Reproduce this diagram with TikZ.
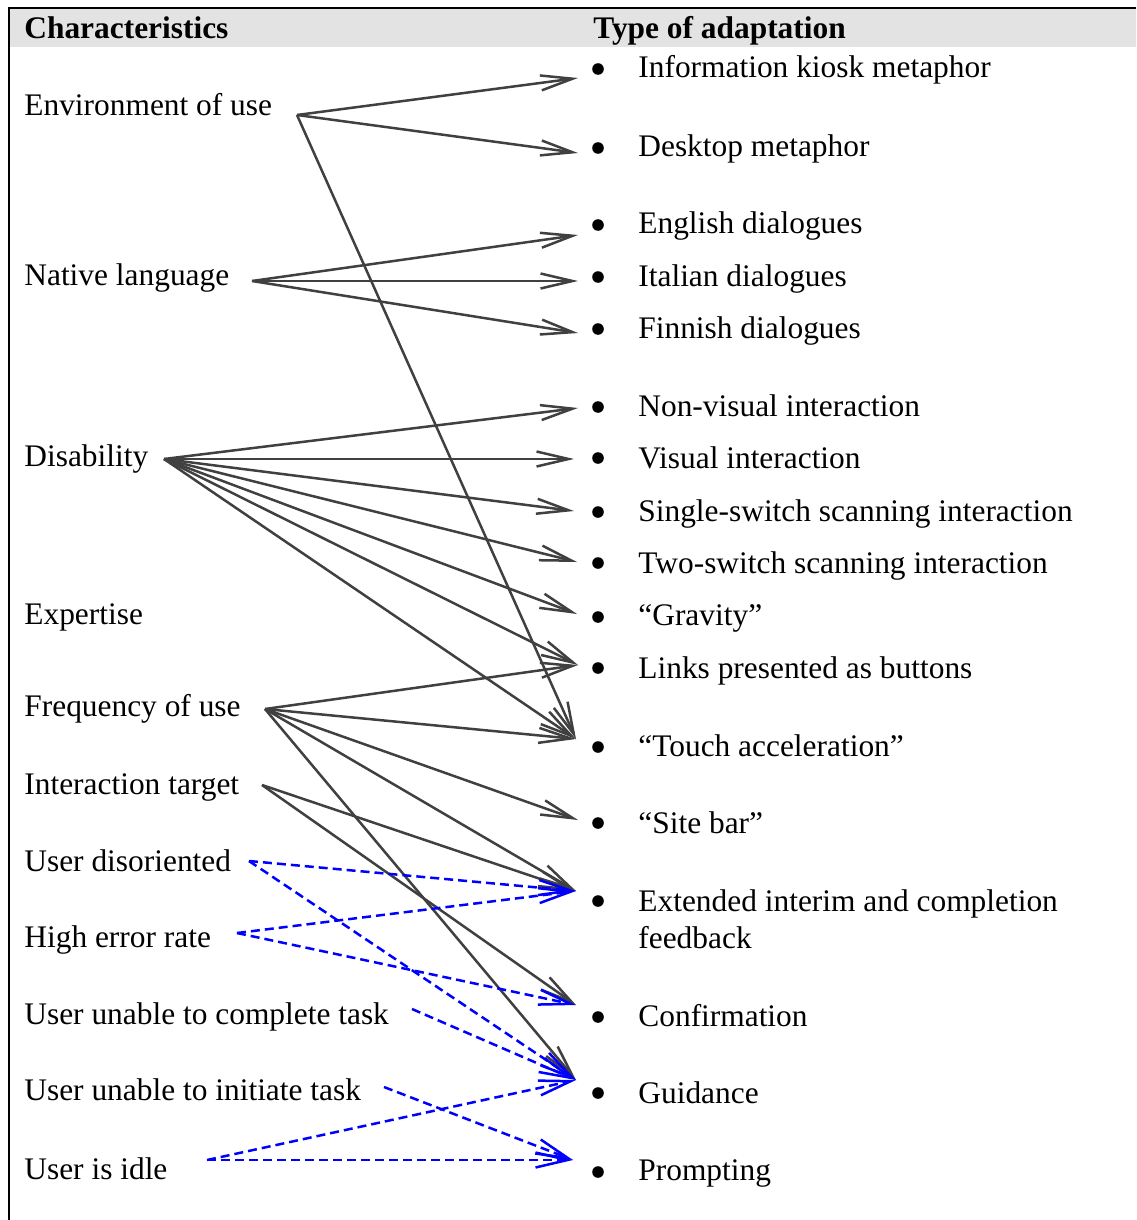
\documentclass[tikz,border=0pt]{standalone}
\usepackage{fontspec}
\setmainfont{Liberation Serif}
\usepackage{tikz}
\usetikzlibrary{arrows.meta}

\begin{document}
\begin{tikzpicture}[x=0.5pt, y=-0.5pt, font=\fontsize{15.7}{18.5}\selectfont,
  lbl/.style={anchor=base west, inner sep=0pt, align=left},
  hd/.style={lbl, font=\fontsize{15.7}{18.5}\selectfont\bfseries},
  dot/.style={circle, fill=black, inner sep=0pt, minimum size=5.8pt},
  ln/.style={draw=black!75, line width=1.25pt, -{Straight Barb[length=16pt, width=7.5pt]}},
  dl/.style={draw=blue, line width=1.25pt, dash pattern=on 4.5pt off 2.5pt, -{Straight Barb[length=16pt, width=7.5pt]}}]
\useasboundingbox (0,0) rectangle (1136,1220);
% header band and frame
\fill[black!11] (10,9) rectangle (1136,47);
\draw[line width=1.3pt] (1136,8) -| (9,1220);
\node[hd] (hchar) at (24,39) {Characteristics};
\node[hd] (htype) at (593,39) {Type of adaptation};

% characteristics
\node[lbl] (env) at (24,116) {Environment of use};
\node[lbl] (nat) at (24,285) {Native language};
\node[lbl] (dis) at (24,466) {Disability};
\node[lbl] (exp) at (24,624) {Expertise};
\node[lbl] (fre) at (24,716) {Frequency of use};
\node[lbl] (tar) at (24,794) {Interaction target};
\node[lbl] (ori) at (24,871) {User disoriented};
\node[lbl] (err) at (24,947) {High error rate};
\node[lbl] (com) at (24,1024) {User unable to complete task};
\node[lbl] (ini) at (24,1100) {User unable to initiate task};
\node[lbl] (idl) at (24,1179) {User is idle};

% adaptations
\node[dot] (b1) at (598,69) {};   \node[lbl] (kiosk) at (638,78) {Information kiosk metaphor};
\node[dot] (b2) at (598,148) {};  \node[lbl] (desk) at (638,156) {Desktop metaphor};
\node[dot] (b3) at (598,225) {};  \node[lbl] (eng) at (638,233) {English dialogues};
\node[dot] (b4) at (598,277) {};  \node[lbl] (ita) at (638,286) {Italian dialogues};
\node[dot] (b5) at (598,329) {};  \node[lbl] (fin) at (638,338) {Finnish dialogues};
\node[dot] (b6) at (598,407) {};  \node[lbl] (nvis) at (638,416) {Non-visual interaction};
\node[dot] (b7) at (598,458) {};  \node[lbl] (vis) at (638,468) {Visual interaction};
\node[dot] (b8) at (598,512) {};  \node[lbl] (single) at (638,521) {Single-switch scanning interaction};
\node[dot] (b9) at (598,563) {};  \node[lbl] (two) at (638,573) {Two-switch scanning interaction};
\node[dot] (b10) at (598,617) {}; \node[lbl] (grav) at (638,625) {``Gravity''};
\node[dot] (b11) at (598,668) {}; \node[lbl] (links) at (638,678) {Links presented as buttons};
\node[dot] (b12) at (598,747) {}; \node[lbl] (touch) at (638,756) {``Touch acceleration''};
\node[dot] (b13) at (598,823) {}; \node[lbl] (site) at (638,833) {``Site bar''};
\node[dot] (b14) at (598,901) {}; \node[lbl] (ext) at (638,948) {Extended interim and completion\\feedback};
\node[dot] (b15) at (598,1017) {}; \node[lbl] (conf) at (638,1026) {Confirmation};
\node[dot] (b16) at (598,1093) {}; \node[lbl] (guid) at (638,1103) {Guidance};
\node[dot] (b17) at (598,1172) {}; \node[lbl] (prom) at (638,1180) {Prompting};

% arrow start and end points
\coordinate (env-o) at (297,115);
\coordinate (nat-o) at (252,281);
\coordinate (dis-o) at (164,459);
\coordinate (fre-o) at (265,709);
\coordinate (tar-o) at (262,785);
\coordinate (ori-o) at (249,861);
\coordinate (err-o) at (237,933);
\coordinate (com-o) at (412,1009);
\coordinate (ini-o) at (384,1087);
\coordinate (idl-o) at (207,1160);
\coordinate (kiosk-t) at (578,78);
\coordinate (desk-t) at (578,153);
\coordinate (eng-t) at (578,235);
\coordinate (ita-t) at (578,281);
\coordinate (fin-t) at (578,333);
\coordinate (nvis-t) at (578,408);
\coordinate (vis-t) at (574,459);
\coordinate (single-t) at (574,511);
\coordinate (two-t) at (577,562);
\coordinate (grav-t) at (577,614);
\coordinate (links-t) at (578,665);
\coordinate (touch-t) at (576,739);
\coordinate (site-t) at (578,820);
\coordinate (ext-t) at (576,891);
\coordinate (conf-t) at (576,1005);
\coordinate (guid-t) at (576,1080);
\coordinate (prom-t) at (573,1160);

\draw[ln] (env-o) -- (kiosk-t); \draw[ln] (env-o) -- (desk-t); \draw[ln] (env-o) -- (touch-t);
\draw[ln] (nat-o) -- (eng-t); \draw[ln] (nat-o) -- (ita-t); \draw[ln] (nat-o) -- (fin-t);
\draw[ln] (dis-o) -- (nvis-t); \draw[ln] (dis-o) -- (vis-t); \draw[ln] (dis-o) -- (single-t);
\draw[ln] (dis-o) -- (two-t); \draw[ln] (dis-o) -- (grav-t); \draw[ln] (dis-o) -- (links-t);
\draw[ln] (dis-o) -- (touch-t);
\draw[ln] (fre-o) -- (links-t); \draw[ln] (fre-o) -- (touch-t); \draw[ln] (fre-o) -- (site-t);
\draw[ln] (fre-o) -- (ext-t); \draw[ln] (fre-o) -- (guid-t);
\draw[ln] (tar-o) -- (ext-t); \draw[ln] (tar-o) -- (conf-t);
% run-time conditions
\draw[dl] (ori-o) -- (ext-t); \draw[dl] (ori-o) -- (guid-t);
\draw[dl] (err-o) -- (ext-t); \draw[dl] (err-o) -- (conf-t);
\draw[dl] (com-o) -- (guid-t);
\draw[dl] (ini-o) -- (prom-t);
\draw[dl] (idl-o) -- (guid-t); \draw[dl] (idl-o) -- (prom-t);
\end{tikzpicture}
\end{document}
